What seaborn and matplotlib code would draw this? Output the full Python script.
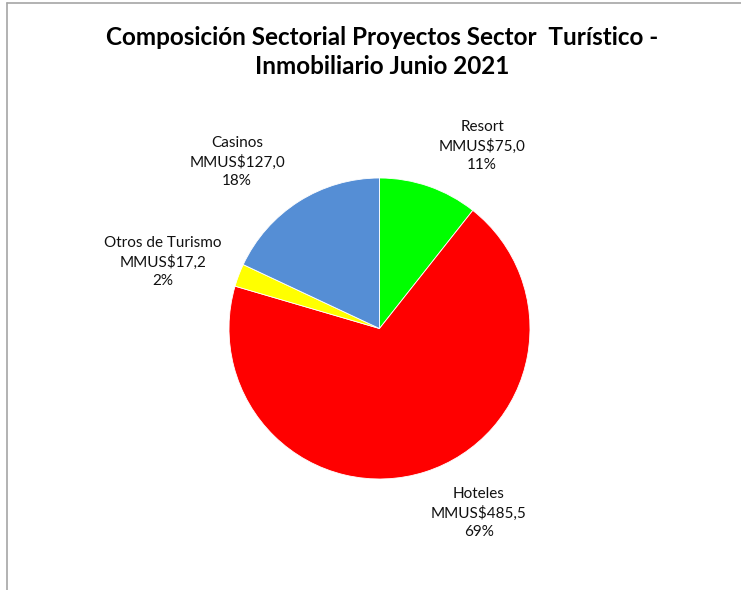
import matplotlib
matplotlib.use("Agg")
import matplotlib.pyplot as plt
from matplotlib.lines import Line2D
import seaborn as sns

categories = ["Resort", "Hoteles", "Otros de Turismo", "Casinos"]
values = [75.0, 485.5, 17.2, 127.0]
colors = ["#00FF00", "#FF0000", "#FFFF00", "#558ED5"]
title = "Composición Sectorial Proyectos Sector  Turístico -\nInmobiliario Junio 2021"

sns.set_theme(style="white")
plt.rcParams['font.family'] = ['Lato', 'DejaVu Sans']

W, H = 741, 590
fig = plt.figure(figsize=(W / 100, H / 100), dpi=100)

def fx(x):
    return x / W

def fy(y):
    return 1 - y / H

# pie axes: centre (379,328), radius ~150
ax = fig.add_axes([fx(229), fy(479), 301 / W, 301 / H])
ax.pie(values, colors=colors, startangle=90, counterclock=False,
       wedgeprops=dict(edgecolor="white", linewidth=0.6))
ax.set_xlim(-1, 1)
ax.set_ylim(-1, 1)
ax.set_aspect("equal")
ax.axis("off")

total = sum(values)
label_pos = {  # centre x, y of middle line in pixels
    "Resort": (482, 146),
    "Hoteles": (479, 513),
    "Otros de Turismo": (163, 262),
    "Casinos": (237, 162),
}
for cat, val in zip(categories, values):
    pct = round(100 * val / total)
    txt = f"{cat}\nMMUS${val:.1f}".replace(".", ",") + f"\n{pct}%"
    x, y = label_pos[cat]
    fig.text(fx(x), fy(y), txt, ha="center", va="center", fontsize=11,
             color="#111111", linespacing=1.42)

fig.text(fx(382), fy(52), title, ha="center", va="center", fontsize=17.5,
         fontweight="bold", color="black", linespacing=1.3)

# chart frame
fig.add_artist(Line2D([fx(7), 1], [fy(3), fy(3)], color="#A6A6A6", lw=1.2))
fig.add_artist(Line2D([fx(7), fx(7)], [0, fy(3)], color="#A6A6A6", lw=1.2))

fig.savefig("out.png", dpi=100)
